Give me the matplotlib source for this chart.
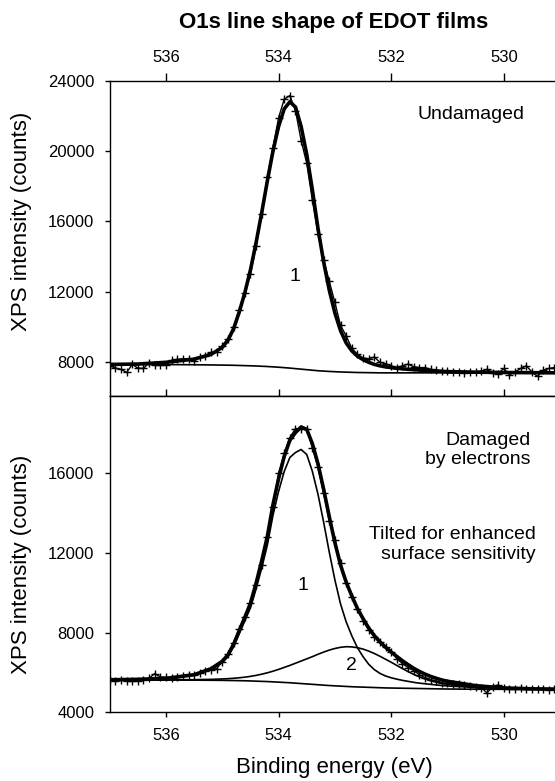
import numpy as np
import matplotlib
matplotlib.use("Agg")
import matplotlib.pyplot as plt

plt.rcParams['font.family'] = ['Liberation Sans', 'DejaVu Sans']

# measured points, 0.1 eV steps from 537.0 down to 529.1
data_energy = np.round(np.arange(537.0, 529.05, -0.1), 1)

undamaged_counts = [
    7800, 7680, 7600, 7420, 7880, 7670, 7650, 7980, 7850, 7830,
    7850, 8120, 8170, 8200, 8210, 8080, 8280, 8380, 8560, 8600,
    8950, 9350, 10000, 10950, 11950, 13000, 14600, 16450, 18550, 20200,
    21900, 22950, 23150, 22300, 20600, 19300, 17200, 15300, 13800, 12600,
    11400, 10100, 9500, 8800, 8450, 8250, 8200, 8300, 8000, 7920,
    7800, 7700, 7800, 7900, 7750, 7700, 7700, 7600, 7550, 7500,
    7480, 7420, 7420, 7400, 7420, 7420, 7500, 7600, 7400, 7350,
    7650, 7300, 7450, 7650, 7800, 7450, 7200, 7550, 7650, 7700,
]

damaged_counts = [
    5630, 5560, 5640, 5590, 5600, 5580, 5620, 5720, 5950, 5780,
    5760, 5740, 5760, 5850, 5900, 5880, 6000, 6100, 6150, 6200,
    6550, 6950, 7500, 8200, 8800, 9500, 10400, 11400, 12800, 14300,
    16000, 17000, 17800, 18250, 18250, 18250, 17300, 16300, 15000, 13600,
    12650, 11500, 10500, 9800, 9200, 8600, 8150, 7800, 7550, 7300,
    7050, 6700, 6450, 6250, 6100, 5900, 5750, 5650, 5580, 5470,
    5470, 5440, 5420, 5380, 5340, 5300, 5250, 4980, 5280, 5380,
    5250, 5200, 5180, 5220, 5170, 5180, 5160, 5200, 5150, 5170,
]

# fitted curves
fit_energy = [
    537.0, 536.5, 536.0, 535.5, 535.2, 535.0, 534.9, 534.8, 534.7, 534.6,
    534.5, 534.4, 534.3, 534.2, 534.1, 534.0, 533.9, 533.8, 533.7, 533.6,
    533.5, 533.4, 533.3, 533.2, 533.1, 533.0, 532.9, 532.8, 532.7, 532.6,
    532.5, 532.4, 532.3, 532.2, 532.1, 532.0, 531.9, 531.8, 531.7, 531.6,
    531.5, 531.4, 531.3, 531.2, 531.1, 531.0, 530.5, 530.0, 529.5, 529.0,
]

undamaged_fit = [
    7880, 7900, 8000, 8180, 8450, 8850, 9250, 9900, 10850, 11950,
    13250, 14800, 16500, 18300, 20000, 21400, 22400, 22800, 22500, 21400,
    19800, 17800, 15600, 13700, 12100, 10800, 9800, 9100, 8650, 8350,
    8150, 8000, 7880, 7800, 7740, 7700, 7660, 7630, 7600, 7580,
    7560, 7540, 7520, 7500, 7490, 7470, 7440, 7420, 7410, 7400,
]

undamaged_bg = [
    7880, 7880, 7870, 7860, 7850, 7840, 7835, 7830, 7820, 7810,
    7800, 7790, 7775, 7760, 7740, 7720, 7695, 7670, 7640, 7610,
    7580, 7550, 7520, 7500, 7480, 7465, 7450, 7440, 7430, 7420,
    7415, 7410, 7405, 7400, 7400, 7400, 7400, 7400, 7400, 7400,
    7400, 7400, 7400, 7400, 7400, 7395, 7395, 7390, 7390, 7390,
]

damaged_fit = [
    5640, 5662, 5710, 5895, 6195, 6570, 6890, 7415, 8095, 8780,
    9480, 10490, 11610, 12840, 14435, 15740, 16855, 17670, 18050, 18330,
    18210, 17490, 16480, 15210, 13830, 12525, 11400, 10545, 9850, 9220,
    8710, 8240, 7860, 7540, 7270, 7035, 6810, 6595, 6400, 6215,
    6060, 5925, 5810, 5715, 5630, 5565, 5345, 5230, 5185, 5170,
]

damaged_peak1 = [
    5640, 5660, 5700, 5870, 6150, 6500, 6800, 7300, 7950, 8600,
    9250, 10200, 11250, 12400, 13900, 15100, 16100, 16800, 17050, 17200,
    16950, 16100, 14950, 13550, 12050, 10650, 9450, 8550, 7850, 7250,
    6800, 6420, 6150, 5960, 5830, 5740, 5670, 5610, 5560, 5510,
    5470, 5440, 5410, 5380, 5350, 5330, 5250, 5200, 5175, 5165,
]

damaged_peak2 = [
    5630, 5632, 5635, 5645, 5660, 5680, 5695, 5715, 5740, 5770,
    5810, 5860, 5920, 5990, 6070, 6160, 6260, 6360, 6470, 6580,
    6690, 6800, 6920, 7030, 7130, 7210, 7270, 7300, 7290, 7250,
    7180, 7080, 6960, 6820, 6670, 6520, 6360, 6200, 6050, 5910,
    5790, 5680, 5590, 5520, 5460, 5410, 5260, 5190, 5165, 5155,
]

damaged_bg = [
    5630, 5630, 5625, 5620, 5615, 5610, 5605, 5600, 5595, 5590,
    5580, 5570, 5560, 5550, 5535, 5520, 5505, 5490, 5470, 5450,
    5430, 5410, 5390, 5370, 5350, 5335, 5320, 5305, 5290, 5280,
    5270, 5260, 5250, 5240, 5230, 5225, 5220, 5215, 5210, 5205,
    5200, 5195, 5190, 5185, 5180, 5175, 5165, 5160, 5155, 5150,
]

x_ticks = [536, 534, 532, 530]

fig = plt.figure(figsize=(5.55, 7.81), dpi=100)
ax1 = fig.add_axes([0.1977, 0.4933, 0.8023, 0.4034])
ax2 = fig.add_axes([0.1977, 0.0878, 0.8023, 0.4055])

marker_style = dict(color='black', lw=1.0, marker='+', ms=5.5, mew=1.0)

# top: undamaged
ax1.plot(fit_energy, undamaged_bg, color='black', lw=1.2)
ax1.plot(fit_energy, undamaged_fit, color='black', lw=2.6)
ax1.plot(data_energy, undamaged_counts, **marker_style)
ax1.set_xlim(537, 529.09)
ax1.set_ylim(6100, 24000)
ax1.set_yticks([8000, 12000, 16000, 20000, 24000])
ax1.set_xticks(x_ticks)
ax1.xaxis.tick_top()
ax1.tick_params(axis='x', direction='out', length=6, width=1, pad=5, labelsize=12)
ax1.tick_params(axis='y', direction='out', length=3.6, width=1, pad=7.5, labelsize=12)
ax1.spines['right'].set_visible(False)
ax1.text(529.63, 22050, 'Undamaged', ha='right', va='center', fontsize=14)
ax1.text(533.71, 12900, '1', ha='center', va='center', fontsize=14)

# bottom: damaged
ax2.plot(fit_energy, damaged_bg, color='black', lw=1.2)
ax2.plot(fit_energy, damaged_peak2, color='black', lw=1.2)
ax2.plot(fit_energy, damaged_peak1, color='black', lw=1.2)
ax2.plot(fit_energy, damaged_fit, color='black', lw=2.6)
ax2.plot(data_energy, damaged_counts, **marker_style)
ax2.set_xlim(537, 529.09)
ax2.set_ylim(4000, 19900)
ax2.set_yticks([4000, 8000, 12000, 16000])
ax2.set_xticks(x_ticks)
ax2.tick_params(axis='x', direction='out', length=3.5, width=1, pad=8, labelsize=12)
ax2.tick_params(axis='y', direction='out', length=3.6, width=1, pad=7.5, labelsize=12)
ax2.spines['right'].set_visible(False)
sec = ax2.secondary_xaxis('top')
sec.set_xticks(x_ticks)
sec.tick_params(axis='x', direction='out', length=5, width=1, labeltop=False)
ax2.text(529.53, 17170, 'Damaged\nby electrons', ha='right', va='center',
         multialignment='right', fontsize=14)
ax2.text(529.43, 12430, 'Tilted for enhanced\nsurface sensitivity', ha='right',
         va='center', multialignment='right', fontsize=14)
ax2.text(533.57, 10390, '1', ha='center', va='center', fontsize=14)
ax2.text(532.70, 6380, '2', ha='center', va='center', fontsize=14)

for ax in (ax1, ax2):
    for s in ax.spines.values():
        s.set_linewidth(1.0)

fig.text(0.601, 0.971, 'O1s line shape of EDOT films', ha='center', va='center',
         fontsize=16, fontweight='bold')
fig.text(0.038, 0.717, 'XPS intensity (counts)', rotation=90, ha='center',
         va='center', fontsize=16)
fig.text(0.038, 0.278, 'XPS intensity (counts)', rotation=90, ha='center',
         va='center', fontsize=16)
fig.text(0.603, 0.017, 'Binding energy (eV)', ha='center', va='center', fontsize=16)

fig.savefig('out.png', dpi=100)
